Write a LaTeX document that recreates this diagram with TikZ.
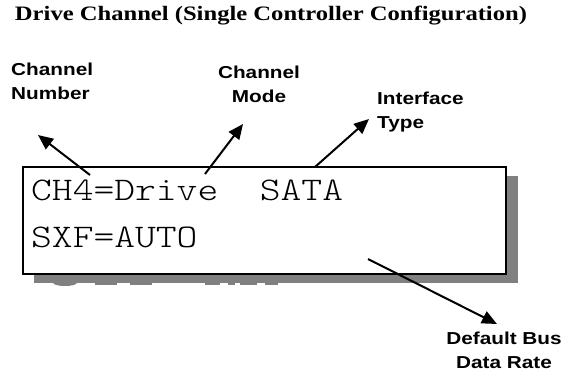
\documentclass[tikz,border=0pt]{standalone}
\usepackage{fontspec}
\newfontfamily\titlefont[FakeStretch=1.2]{Liberation Serif}
\newfontfamily\labelfont[FakeStretch=1.2]{Liberation Sans}
\newfontfamily\lcdfont[FakeStretch=1.2]{Latin Modern Mono Light}
\usetikzlibrary{arrows.meta}
\definecolor{shadowgray}{HTML}{808080}
\tikzset{
  lbl/.style={font=\labelfont\bfseries\fontsize{17.3}{23.5}\selectfont, inner sep=0pt},
  lcd/.style={font=\lcdfont\fontsize{33}{40}\selectfont, inner sep=0pt, anchor=base west},
  pointer/.style={line width=2pt, -{Triangle[length=15pt,width=13pt]}},
}
\begin{document}
\begin{tikzpicture}[x=1pt,y=-1pt]
\useasboundingbox (0,0) rectangle (582,376);
% title
\node[font=\titlefont\bfseries\fontsize{20.5}{24}\selectfont, inner sep=0pt, anchor=base] (title) at (271,20.5)
  {Drive Channel (Single Controller Configuration)};
% drop shadow of the display, with the tops of faint glyphs below it
\fill[shadowgray] (34,176) rectangle (518,283);
\fill[shadowgray] (53,283) -- (77,283) .. controls (75,287) and (55,287) .. (53,283) -- cycle;
\fill[shadowgray] (95,283) rectangle (117,285);
\fill[shadowgray] (130,283) rectangle (152,285);
\fill[shadowgray] (205,283) rectangle (220,285);
\fill[shadowgray] (228,283) rectangle (235,285);
\fill[shadowgray] (240,283) rectangle (257,285);
\fill[shadowgray] (265,283) rectangle (278,285);
% display
\node[draw, line width=2pt, fill=white, minimum width=483pt, minimum height=107.5pt, inner sep=0pt, anchor=north west] (lcd) at (22,165.5) {};
\node[lcd] (line1) at (31,200) {CH4=Drive\ \ SATA};
\node[lcd] (line2) at (31,247) {SXF=AUTO};
% labels
\node[lbl, align=left, anchor=north west] (chnum) at (11,63) {Channel\\Number};
\node[lbl, align=center, anchor=north] (chmode) at (259,66) {Channel\\Mode};
\node[lbl, align=left, anchor=north west] (iftype) at (377,92) {Interface\\Type};
\node[lbl, align=center, anchor=north] (rate) at (504,332) {Default Bus\\Data Rate};
% pointer ends
\coordinate (p1s) at (90,175);   \coordinate (p1e) at (38,135);
\coordinate (p2s) at (205,174);  \coordinate (p2e) at (243,124);
\coordinate (p3s) at (315,167);  \coordinate (p3e) at (369,119);
\coordinate (p4s) at (368,259);  \coordinate (p4e) at (497,324);
\draw[pointer] (p1s) -- (p1e);
\draw[pointer] (p2s) -- (p2e);
\draw[pointer] (p3s) -- (p3e);
\draw[pointer] (p4s) -- (p4e);
\end{tikzpicture}
\end{document}
